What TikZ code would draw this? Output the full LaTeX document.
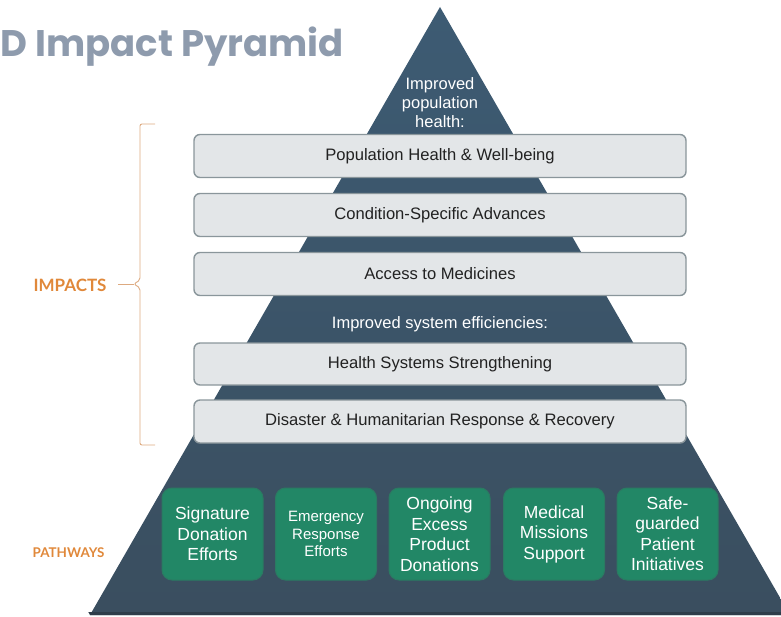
\documentclass[tikz,border=0pt]{standalone}
\usepackage{fontspec}
\setmainfont{Liberation Sans}
\newfontfamily\titlefont{Poppins}
\newfontfamily\labelfont{Lato}
\begin{document}
\begin{tikzpicture}[x=1pt,y=-1pt,
  bar/.style={draw=barborder,line width=1.4pt,fill=barfill,rounded corners=6pt,
    minimum width=492pt,minimum height=43pt,inner sep=0pt,font=\fontsize{16.6}{18}\selectfont,text=bartext},
  pathbox/.style={draw=greenborder,line width=1pt,fill=greenfill,rounded corners=10pt,
    minimum width=101pt,minimum height=92pt,inner sep=1pt,align=center,text=white,
    font=\fontsize{17.5}{20.5}\selectfont},
  pyrtext/.style={text=white,align=center,font=\fontsize{16.5}{19}\selectfont},
  sidelabel/.style={text=orangetxt,font=\labelfont\bfseries},
  bracestyle/.style={draw=bracecol,line width=0.9pt}
]
\definecolor{pyrtop}{HTML}{3D5B73}
\definecolor{pyrbot}{HTML}{3A4E5F}
\definecolor{pyrdark}{HTML}{2E3D4A}
\definecolor{barfill}{HTML}{E3E6E8}
\definecolor{barborder}{HTML}{8A969B}
\definecolor{bartext}{HTML}{222222}
\definecolor{greenfill}{HTML}{228766}
\definecolor{greenborder}{HTML}{2B7A62}
\definecolor{orangetxt}{HTML}{E0883A}
\definecolor{bracecol}{HTML}{DDAA80}
\definecolor{titlecol}{HTML}{8E9BAD}
\useasboundingbox (0,0) rectangle (781,617);
\begin{scope}
\clip (0,0) rectangle (781,617);
% pyramid
\shade[top color=pyrtop,bottom color=pyrbot] (440,7) -- (790,615) -- (90,615) -- cycle;
\fill[pyrdark] (88.3,612) -- (791.7,612) -- (793,615) -- (90,615) -- cycle;
% title (cut at the left edge, as in the reference)
\node[anchor=base east,text=titlecol,inner sep=0pt,font=\titlefont\bfseries\fontsize{37}{40}\selectfont] (title) at (344,57) {ID Impact Pyramid};
\end{scope}
% apex text
\node[pyrtext] (apex) at (440,103) {Improved\\population\\health:};
% bars
\node[bar] (b1) at (440,156) {Population Health \& Well-being};
\node[bar] (b2) at (440,215) {Condition-Specific Advances};
\node[bar] (b3) at (440,274) {Access to Medicines};
\node[pyrtext] (eff) at (440,324) {Improved system efficiencies:};
\node[bar,minimum height=42pt] (b4) at (440,364) {Health Systems Strengthening};
\node[bar] (b5) at (440,421.5) {Disaster \& Humanitarian Response \& Recovery};
% pathways
\node[pathbox] (p1) at (212.5,534) {Signature\\Donation\\Efforts};
\node[pathbox,font=\fontsize{15}{17.5}\selectfont] (p2) at (326,534) {Emergency\\Response\\Efforts};
\node[pathbox] (p3) at (439.5,534) {Ongoing\\Excess\\Product\\Donations};
\node[pathbox] (p4) at (554,534) {Medical\\Missions\\Support};
\node[pathbox] (p5) at (667.5,534) {Safe-\\guarded\\Patient\\Initiatives};
% side labels
\node[sidelabel,anchor=east,font=\labelfont\bfseries\fontsize{17}{19}\selectfont] (imp) at (110,285) {IMPACTS};
\node[sidelabel,anchor=east,font=\labelfont\bfseries\fontsize{13.4}{16}\selectfont] (pth) at (108,553) {PATHWAYS};
% brace
\coordinate (bt) at (155,124);
\coordinate (bb) at (155,445);
\coordinate (tip) at (134,284);
\draw[bracestyle,rounded corners=2pt] (bt) -- (140,124) -- (140,280) -- (tip) -- (140,288) -- (140,445) -- (bb);
\draw[bracestyle] (imp.east) ++(8,-1) -- (tip);
\end{tikzpicture}
\end{document}
